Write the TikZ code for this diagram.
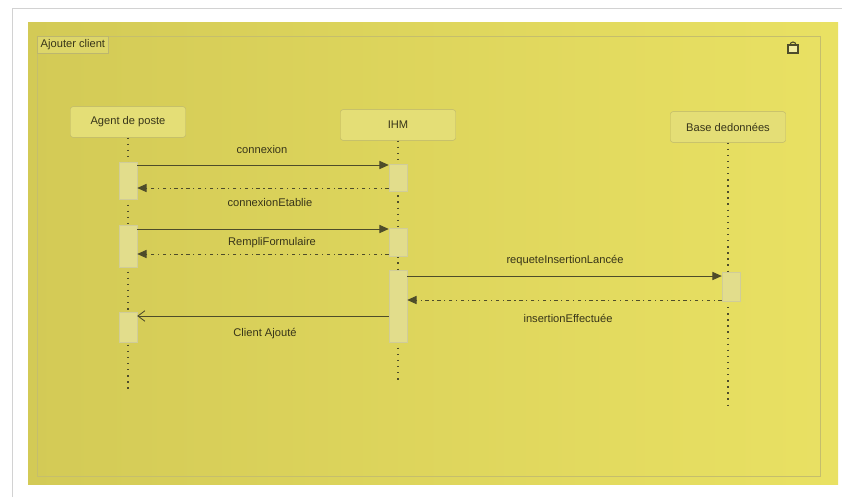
\documentclass[tikz,border=0pt]{standalone}
\usepackage{fontspec}
\setmainfont{Liberation Sans}
\usetikzlibrary{arrows.meta}

\definecolor{fondG}{RGB}{211,202,86}
\definecolor{fondD}{RGB}{233,225,99}
\definecolor{trait}{RGB}{78,76,42}
\definecolor{texte}{RGB}{55,52,25}
\definecolor{boite}{RGB}{228,222,118}
\definecolor{bord}{RGB}{188,182,110}
\definecolor{barreF}{RGB}{226,221,140}

\begin{document}
\begin{tikzpicture}[x=0.03cm, y=-0.03cm,
    every node/.style={font=\fontsize{9.5}{11}\selectfont, text=texte},
    acteur/.style={draw=bord, fill=boite, rounded corners=2pt, minimum width=3.45cm, minimum height=0.92cm},
    barre/.style={draw=bord!70, fill=barreF, minimum width=0.54cm, inner sep=0pt},
    vie/.style={trait, line width=0.9pt, dash pattern=on 1.2pt off 4pt},
    msg/.style={trait, line width=0.7pt, -{Triangle[length=8pt, width=7pt]}},
    retour/.style={trait, line width=0.7pt, dash pattern=on 3pt off 3pt on 1pt off 3pt, -{Triangle[length=8pt, width=7pt]}},
    fin/.style={trait, line width=0.7pt, -{Straight Barb[length=6pt, width=9pt]}},
    lbl/.style={inner sep=1pt}]

  % fond et cadre
  \useasboundingbox (0,0) rectangle (842,497);
  \fill[white] (0,0) rectangle (842,497);
  \draw[gray!35, line width=0.8pt] (12,497) -- (12,8) -- (842,8);
  \shade[left color=fondG, right color=fondD] (28,22) rectangle (838,484);
  \draw[bord!80!fondD, line width=0.5pt] (37,36) rectangle (820,476);
  \node[draw=bord, fill=boite!60!fondG, anchor=north west, inner sep=3pt] (titre) at (37,36) {Ajouter client};
  \draw[trait, line width=0.9pt, fill=fondD!60!white] (788,45) rectangle (798,53);
  \draw[trait, line width=0.9pt] (790,45) arc (180:360:3);

  % acteurs
  \node[acteur] (agent) at (128,122) {Agent de poste};
  \node[acteur] (ihm) at (398,125) {IHM};
  \node[acteur] (bdd) at (728,127) {Base dedonnées};

  \draw[vie] (agent.south) -- (agent |- 0,390);
  \draw[vie] (ihm.south) -- (ihm |- 0,380);
  \draw[vie] (bdd.south) -- (bdd |- 0,410);

  % barres d'activation
  \node[barre, minimum height=1.11cm] (a1) at (128,181) {};
  \node[barre, minimum height=1.26cm] (a2) at (128,246) {};
  \node[barre, minimum height=0.90cm] (a3) at (128,327) {};
  \node[barre, minimum height=0.81cm] (i1) at (398,178) {};
  \node[barre, minimum height=0.84cm] (i2) at (398,242) {};
  \node[barre, minimum height=2.16cm] (i3) at (398,306) {};
  \node[barre, minimum height=0.87cm] (b1) at (731,287) {};

  % messages
  \draw[msg] (a1.east |- 0,165) -- (i1.west |- 0,165);
  \node[lbl] (m1) at (262,150) {connexion};
  \draw[retour] (i1.west |- 0,188) -- (a1.east |- 0,188);
  \node[lbl] (m2) at (270,203) {connexionEtablie};

  \draw[msg] (a2.east |- 0,229) -- (i2.west |- 0,229);
  \node[lbl] (m3) at (272,243) {RempliFormulaire};
  \draw[retour] (i2.west |- 0,254) -- (a2.east |- 0,254);

  \draw[msg] (i3.east |- 0,276) -- (b1.west |- 0,276);
  \node[lbl] (m4) at (565,261) {requeteInsertionLancée};
  \draw[retour] (b1.west |- 0,300) -- (i3.east |- 0,300);
  \node[lbl] (m5) at (568,318) {insertionEffectuée};

  \draw[fin] (i3.west |- 0,316) -- (a3.east |- 0,316);
  \node[lbl] (m6) at (265,334) {Client Ajouté};

\end{tikzpicture}
\end{document}
